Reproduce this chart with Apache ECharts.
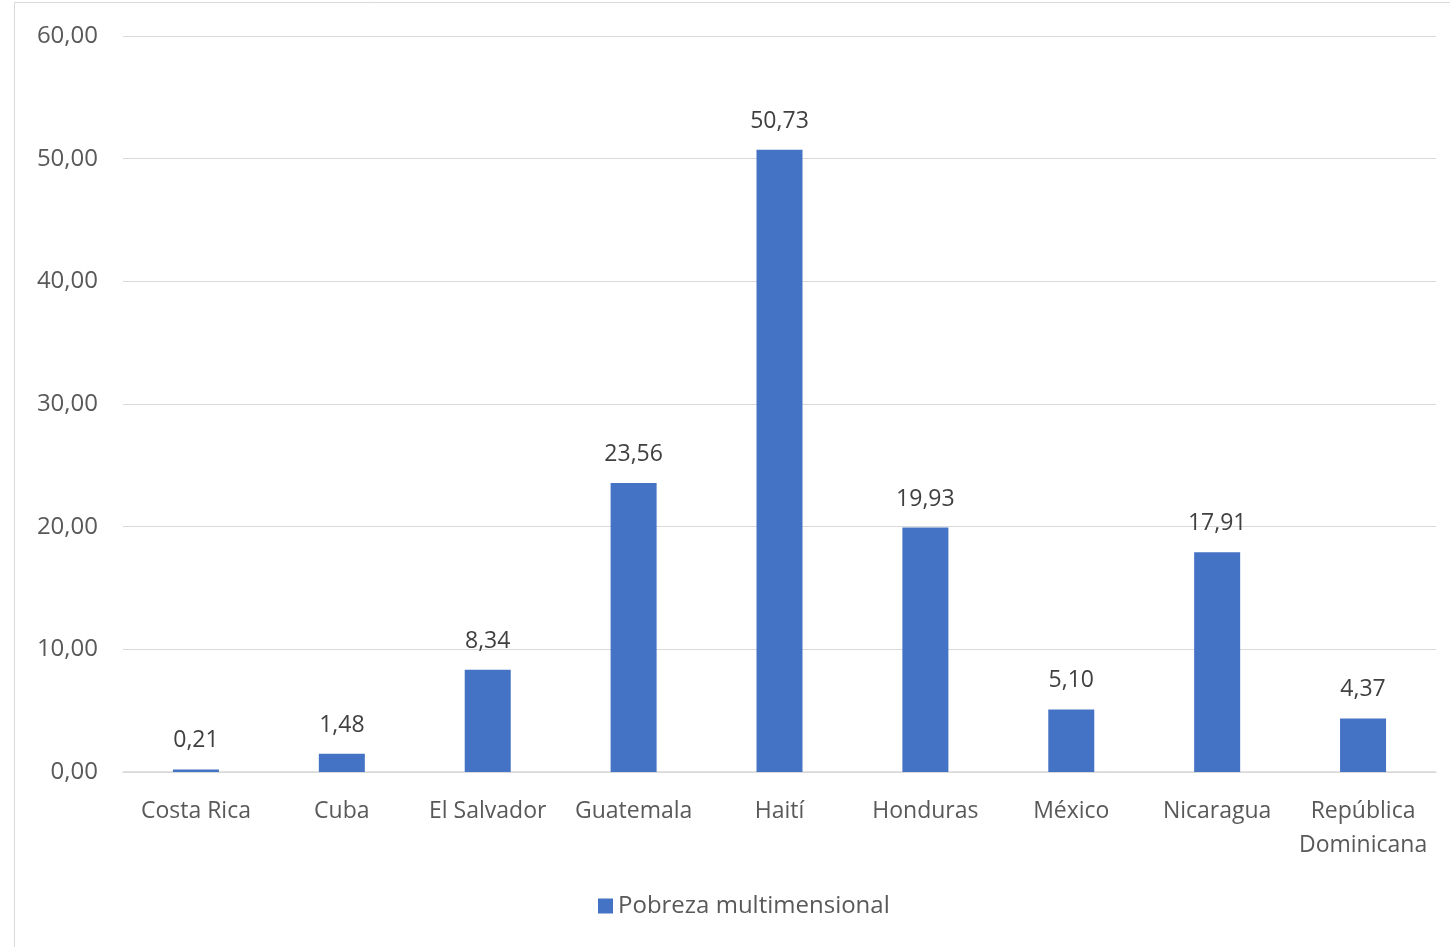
<!DOCTYPE html>
<html><head><meta charset="utf-8">
<script src="https://cdn.jsdelivr.net/npm/echarts@6/dist/echarts.min.js"></script>
<style>html,body{margin:0;padding:0;background:#fff;}#c{width:1450px;height:947px;}</style>
</head><body><div id="c"></div>
<script>
const categories = ['Costa Rica','Cuba','El Salvador','Guatemala','Haití','Honduras','México','Nicaragua','República\nDominicana'];
const values = [0.21,1.48,8.34,23.56,50.73,19.93,5.10,17.91,4.37];
const seriesName = 'Pobreza multimensional';
const fmt = v => v.toFixed(2).replace('.', ',');
const FONT = 'Open Sans';
const chart = echarts.init(document.getElementById('c'));
chart.setOption({
  animation:false,
  textStyle:{fontFamily:FONT},
  graphic:[{type:'rect',shape:{x:14.5,y:2.5,width:1500,height:1000},style:{fill:'none',stroke:'#d9d9d9',lineWidth:1},silent:true}],
  grid:{left:123,right:14,top:36,bottom:175,containLabel:false},
  legend:{data:[seriesName],left:593,top:889,itemWidth:15,itemHeight:15,icon:'rect',itemGap:8,
    textStyle:{fontSize:24,color:'#595959',fontFamily:FONT}},
  xAxis:{type:'category',data:categories,
    axisLine:{lineStyle:{color:'#d9d9d9',width:1.5}},axisTick:{show:false},
    axisLabel:{fontSize:23,color:'#595959',margin:22,lineHeight:34,interval:0}},
  yAxis:{type:'value',min:0,max:60,interval:10,
    axisLine:{show:false},axisTick:{show:false},
    splitLine:{lineStyle:{color:'#d9d9d9',width:1}},
    axisLabel:{fontSize:24,color:'#595959',margin:25,formatter:v=>fmt(v)}},
  series:[{name:seriesName,type:'bar',data:values,barWidth:46,
    itemStyle:{color:'#4472c4'},
    label:{show:true,position:'top',distance:17,fontSize:23,color:'#404040',formatter:p=>fmt(p.value)}}]
});
</script></body></html>
